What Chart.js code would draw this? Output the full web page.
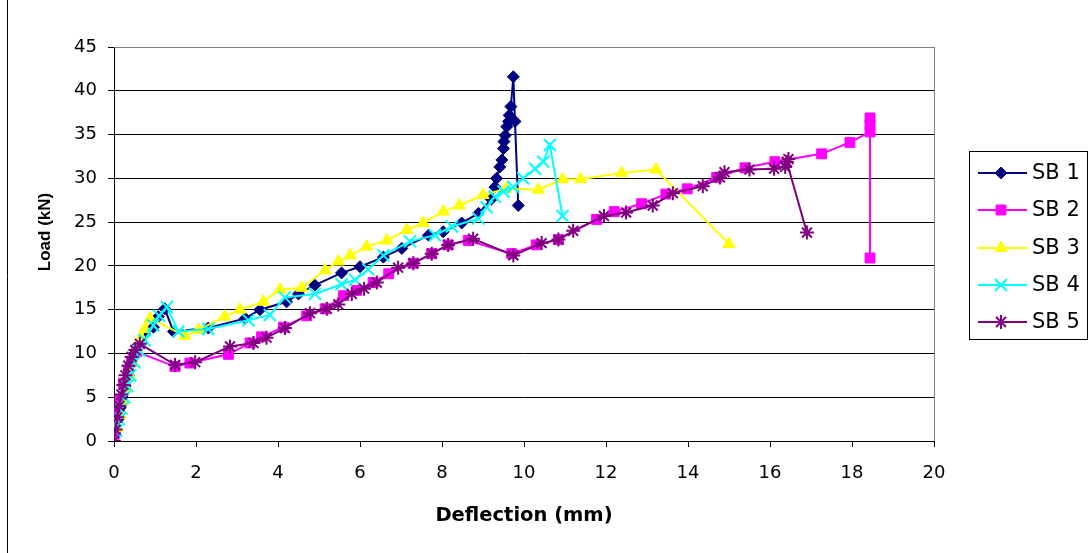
<!DOCTYPE html>
<html><head><meta charset="utf-8">
<script src="https://cdn.jsdelivr.net/npm/chart.js@4.4.0/dist/chart.umd.min.js"></script>
<style>html,body{margin:0;padding:0;background:#fff}</style>
</head><body>
<canvas id="c" width="1092" height="553"></canvas>
<script>
const seriesNames = ['SB 1','SB 2','SB 3','SB 4','SB 5'];
const xTickStep = 2;
const yTickStep = 5;

const sb1X = [0,0.05,0.1,0.15,0.2,0.27,0.35,0.42,0.5,0.6,0.75,0.96,1.08,1.24,1.45,2.3,3.2,3.56,4.21,4.5,4.9,5.55,6.0,6.57,7.02,7.67,8.03,8.48,8.89,9.2,9.29,9.33,9.41,9.46,9.5,9.51,9.54,9.58,9.62,9.64,9.68,9.74,9.78,9.86];
const sb1Y = [0,1.2,2.5,3.8,5,6.3,7.5,8.8,10,11,12.2,13,14.2,15.1,12.5,12.9,14.0,15.0,15.9,16.8,17.8,19.2,19.9,21.0,22.0,23.5,23.9,24.9,26.0,27.6,29.0,30.0,31.3,32.1,33.4,34.2,34.9,35.9,36.5,37.2,38.2,41.6,36.5,26.9];

const sb2X = [0,0.02,0.07,0.15,0.23,0.35,0.43,0.55,1.49,1.85,2.79,3.32,3.6,4.13,4.7,5.15,5.6,5.92,6.32,6.7,7.3,7.75,8.15,8.64,9.7,10.3,10.84,11.77,12.2,12.87,13.46,13.98,14.7,15.39,16.12,17.26,17.95,18.44,18.44,18.44,18.44];
const sb2Y = [0,0.9,3.2,4.7,6.6,8.1,9.1,10.2,8.5,8.9,9.9,11.2,11.9,13.0,14.3,15.1,16.6,17.2,18.1,19.1,20.3,21.4,22.4,22.9,21.4,22.4,23.0,25.3,26.2,27.1,28.2,28.8,30.1,31.2,31.9,32.8,34.1,35.3,36.1,36.9,20.9];

const sb3X = [0,0.08,0.15,0.22,0.3,0.38,0.47,0.56,0.66,0.75,0.88,1.73,2.06,2.7,3.07,3.64,4.05,4.58,5.15,5.47,5.76,6.16,6.65,7.14,7.54,8.03,8.42,9.0,9.56,10.35,10.94,11.38,12.38,13.22,15.0];
const sb3Y = [0,1.5,3,4.5,6,7.5,9,10.5,11.8,12.8,14.0,12.0,12.7,14.2,15.0,15.9,17.3,17.5,19.5,20.5,21.2,22.2,22.9,24.1,24.9,26.2,26.9,28.1,28.8,28.7,29.9,29.9,30.6,31.0,22.5];

const sb4X = [0,0.06,0.12,0.18,0.25,0.32,0.4,0.5,0.62,0.75,0.96,1.1,1.29,1.57,2.3,3.28,3.8,4.17,4.9,5.55,5.88,6.2,6.57,7.22,7.83,8.24,8.89,9.09,9.29,9.5,9.74,9.98,10.27,10.47,10.63,10.94];
const sb4Y = [0,1.2,2.5,3.7,5,6.3,7.5,9,10.3,11.5,13.2,14.3,15.3,12.5,12.8,13.8,14.4,16.4,16.8,17.9,18.4,19.6,21.2,22.8,23.5,24.5,25.4,26.7,27.9,28.5,29.0,30.0,31.1,31.9,33.8,25.7];

const sb5X = [0,0.04,0.08,0.13,0.18,0.23,0.28,0.35,0.43,0.52,0.63,1.49,1.98,2.83,3.4,3.72,4.17,4.78,5.19,5.47,5.8,6.1,6.41,6.93,7.3,7.75,8.15,8.76,9.74,10.43,10.84,11.2,11.95,12.49,13.14,13.63,14.36,14.78,14.89,15.5,16.1,16.37,16.45,16.41,16.9];
const sb5Y = [0,1.3,2.7,4,5.3,6.4,7.5,8.6,9.6,10.4,11.1,8.7,9.0,10.8,11.2,11.8,12.9,14.6,15.1,15.6,16.8,17.4,18.1,19.8,20.3,21.4,22.4,23.1,21.2,22.6,23.0,24.0,25.7,26.1,26.9,28.3,29.1,30.1,30.7,31.0,31.1,31.3,32.2,31.9,23.8];

const xs = [sb1X, sb2X, sb3X, sb4X, sb5X];
const ys = [sb1Y, sb2Y, sb3Y, sb4Y, sb5Y];

const styles = [
  {color:'#000080', pointStyle:'rectRot', radius:6, bw:1},
  {color:'#FF00FF', pointStyle:'rect', radius:7, bw:1},
  {color:'#FFFF00', pointStyle:'triangle', radius:7, bw:1},
  {color:'#00FFFF', pointStyle:'crossRot', radius:8.5, bw:2},
  {color:'#800080', pointStyle:'star', radius:7, bw:2}
];

const datasets = seriesNames.map((name, i) => ({
  label: name,
  data: xs[i].map((x, j) => ({x: x, y: ys[i][j]})),
  showLine: true,
  borderColor: styles[i].color,
  backgroundColor: styles[i].color,
  borderWidth: 2,
  pointStyle: styles[i].pointStyle,
  pointRadius: styles[i].radius,
  pointHoverRadius: styles[i].radius,
  pointBorderWidth: styles[i].bw,
  pointBorderColor: styles[i].color,
  pointBackgroundColor: styles[i].color,
  tension: 0,
  order: 5 - i
}));

const WIDE = "'DejaVu Sans', Verdana, sans-serif";
const ARIAL = "'Liberation Sans', Arial, sans-serif";

const decor = {
  id: 'decor',
  afterDraw(chart) {
    const ctx = chart.ctx;
    const ca = chart.chartArea;
    ctx.save();
    ctx.strokeStyle = '#000';
    ctx.lineWidth = 1;
    ctx.beginPath();
    ctx.moveTo(7.5, 0); ctx.lineTo(7.5, 553);
    ctx.stroke();
    ctx.strokeStyle = '#808080';
    ctx.beginPath();
    ctx.moveTo(Math.round(ca.right) + 0.5, ca.top);
    ctx.lineTo(Math.round(ca.right) + 0.5, ca.bottom);
    ctx.moveTo(ca.left, Math.round(ca.top) + 0.5);
    ctx.lineTo(ca.right, Math.round(ca.top) + 0.5);
    ctx.stroke();
    ctx.fillStyle = '#000';
    ctx.font = "bold 17px " + ARIAL;
    ctx.textAlign = 'center';
    ctx.textBaseline = 'middle';
    ctx.translate(45, 232);
    ctx.rotate(-Math.PI / 2);
    ctx.fillText('Load (kN)', 0, 0);
    ctx.restore();

    ctx.save();
    const bx = 969.5, by = 151.5, bw = 118, bh = 188;
    ctx.fillStyle = '#fff';
    ctx.fillRect(bx, by, bw, bh);
    ctx.strokeStyle = '#000';
    ctx.lineWidth = 1;
    ctx.strokeRect(bx, by, bw, bh);
    const rows = [173, 210, 248, 285, 322];
    chart.data.datasets.forEach((ds, i) => {
      const y = rows[i];
      ctx.strokeStyle = ds.borderColor;
      ctx.lineWidth = 2;
      ctx.beginPath();
      ctx.moveTo(978, y); ctx.lineTo(1027, y);
      ctx.stroke();
      ctx.fillStyle = ds.backgroundColor;
      ctx.strokeStyle = ds.borderColor;
      ctx.lineWidth = ds.pointBorderWidth;
      if (Chart.helpers && Chart.helpers.drawPoint) {
        Chart.helpers.drawPoint(ctx, {pointStyle: ds.pointStyle, rotation: 0, radius: ds.pointRadius, borderWidth: ds.pointBorderWidth}, 1001, y);
      }
      ctx.fillStyle = '#000';
      ctx.font = "21px " + WIDE;
      ctx.textAlign = 'left';
      ctx.textBaseline = 'middle';
      ctx.fillText(ds.label, 1032, y + 1);
    });
    ctx.restore();
  }
};

new Chart(document.getElementById('c'), {
  type: 'scatter',
  data: { datasets },
  plugins: [decor],
  options: {
    responsive: false,
    animation: false,
    layout: { padding: { left: 0, top: 47, right: 158, bottom: 0 } },
    plugins: { legend: { display: false }, tooltip: { enabled: false } },
    scales: {
      x: {
        type: 'linear', min: 0, max: 20,
        ticks: { stepSize: xTickStep, color: '#000', font: { family: WIDE, size: 18 }, padding: 16, maxRotation: 0 },
        grid: { display: true, drawOnChartArea: false, drawTicks: true, tickLength: 6, color: '#000' },
        border: { color: '#000', width: 1 },
        title: { display: true, text: 'Deflection (mm)', color: '#000', font: { family: WIDE, size: 19.5, weight: 'bold' }, padding: { top: 0, bottom: 25 } },
        afterFit(s) { s.height = 112; }
      },
      y: {
        type: 'linear', min: 0, max: 45,
        ticks: { stepSize: yTickStep, color: '#000', font: { family: WIDE, size: 18 }, padding: 11 },
        grid: { color: '#000', tickLength: 6, lineWidth: 1 },
        border: { color: '#000', width: 1 },
        afterFit(s) { s.width = 114; }
      }
    }
  }
});
</script>
</body></html>
